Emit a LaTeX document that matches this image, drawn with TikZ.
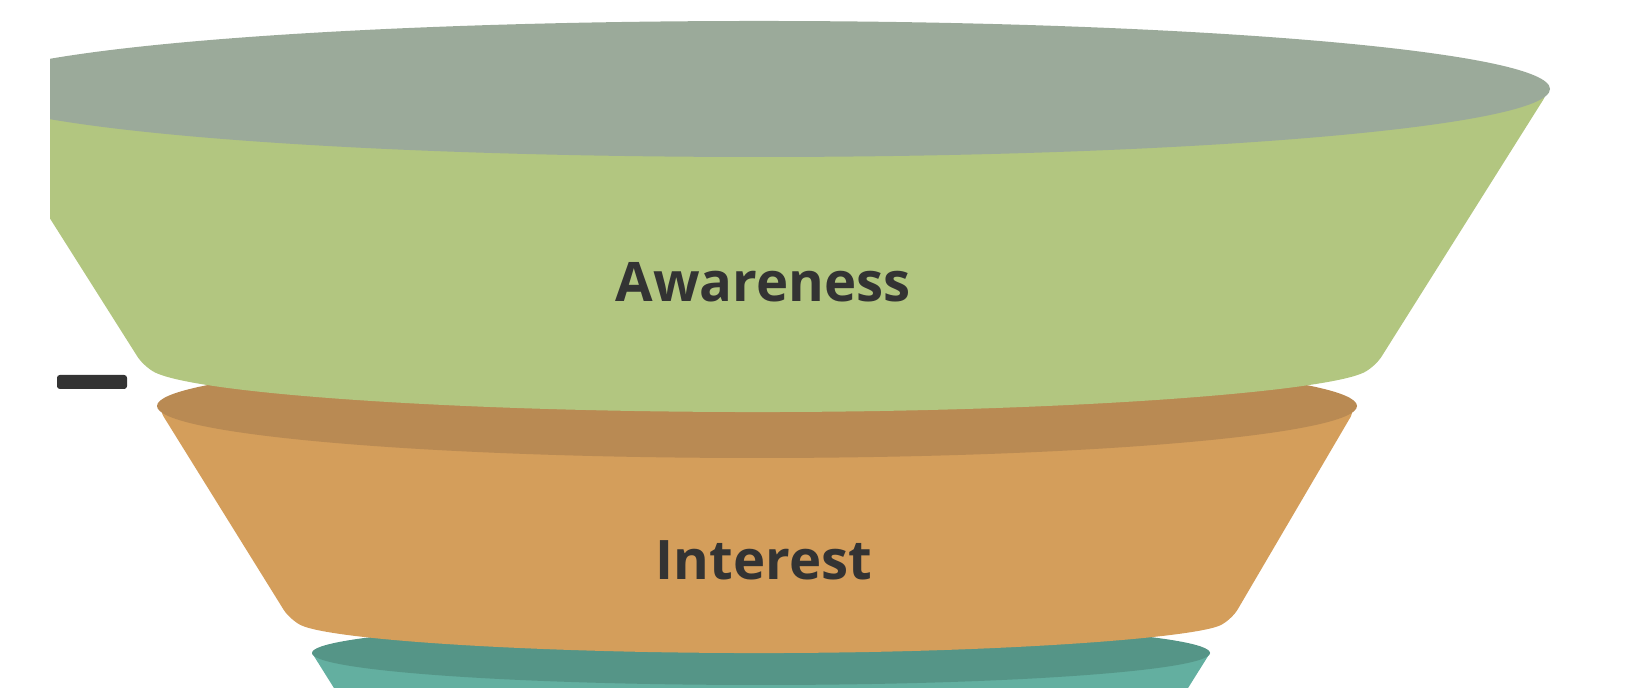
\documentclass[tikz,border=0pt]{standalone}
\usepackage{fontspec}
\setmainfont{Open Sans}
\usepackage{tikz}

\definecolor{rimgray}{HTML}{9BAA9A}
\definecolor{awaregreen}{HTML}{B2C680}
\definecolor{rimorange}{HTML}{B98A53}
\definecolor{interorange}{HTML}{D49E5B}
\definecolor{rimteal}{HTML}{559587}
\definecolor{bodyteal}{HTML}{63AFA0}
\definecolor{inkgray}{HTML}{333333}

\begin{document}
\begin{tikzpicture}[every node/.style={font=\fontsize{15.5}{16}\selectfont\bfseries, text=inkgray},
    bottom rim/.style={start angle=190, end angle=350},
    tier/.style={rounded corners=3.5pt}]
  \useasboundingbox (0,0) rectangle (16.42,6.88);

  % Left marker
  \fill[inkgray, rounded corners=0.8pt] (0.57,2.99) rectangle (1.27,3.13);

  \begin{scope}
    \clip (0.50,0) rectangle (16.42,6.88);

    % Third tier, cut off at the bottom
    \fill[bodyteal] (3.12,0.35) -- (3.54,-0.32) -- (11.68,-0.32) -- (12.10,0.35) -- cycle;
    \fill[rimteal] (7.61,0.35) ellipse [x radius=4.49, y radius=0.32];

    % Interest tier
    \fill[interorange, tier] (1.57,2.82) -- (2.90,0.68)
      arc [bottom rim, x radius=4.78, y radius=0.40]
      -- (13.57,2.82) -- cycle;
    \fill[rimorange] (7.57,2.82) ellipse [x radius=6.00, y radius=0.52];

    % Awareness tier
    \fill[awaregreen, tier] (-0.32,5.99) -- (1.44,3.21)
      arc [bottom rim, x radius=6.25, y radius=0.545]
      -- (15.50,5.99) -- cycle;
    \fill[rimgray] (7.59,5.99) ellipse [x radius=7.91, y radius=0.68];
  \end{scope}

  % Tier labels
  \node[anchor=base] (awareness) at (7.63,3.86) {Awareness};
  \node[anchor=base] (interest) at (7.64,1.08) {Interest};
\end{tikzpicture}
\end{document}
